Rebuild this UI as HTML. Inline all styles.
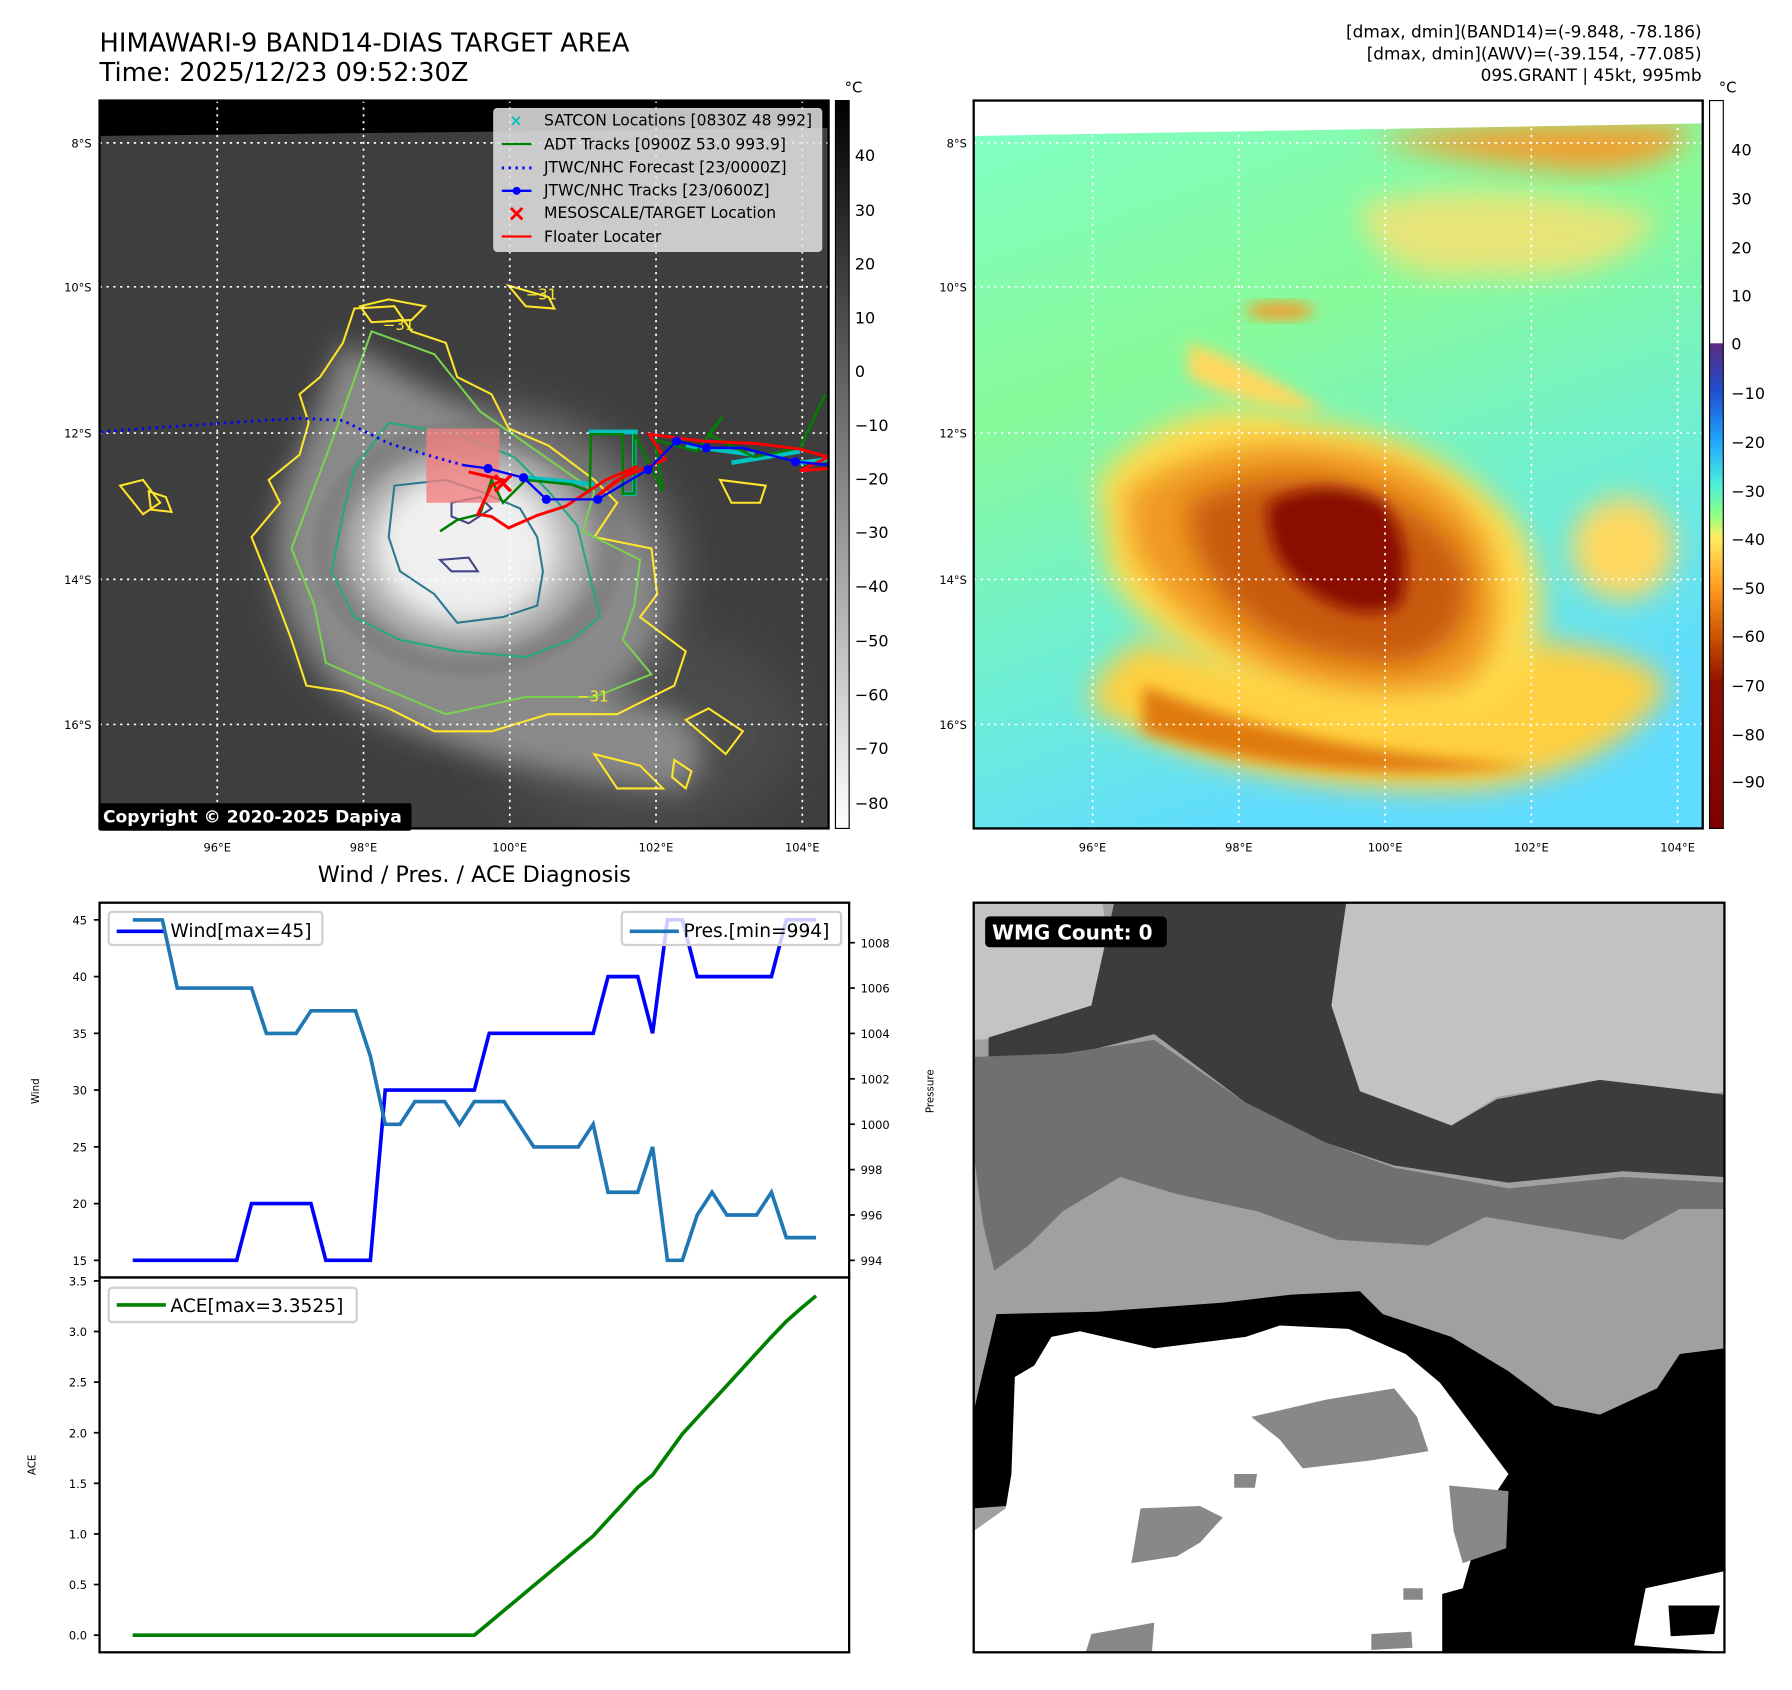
<!DOCTYPE html>
<html><head><meta charset="utf-8"><style>
html,body{margin:0;padding:0;background:#fff;}
svg{display:block;font-family:"DejaVu Sans","Liberation Sans",sans-serif;}
</style></head><body>
<svg id="fig" width="1792" height="1690" viewBox="0 0 1568 1479" xmlns="http://www.w3.org/2000/svg">
<defs>
<filter id="b6" x="-20%" y="-20%" width="140%" height="140%"><feGaussianBlur stdDeviation="6"/></filter>
<filter id="b12" x="-30%" y="-30%" width="160%" height="160%"><feGaussianBlur stdDeviation="12"/></filter>
<filter id="b20" x="-30%" y="-30%" width="160%" height="160%"><feGaussianBlur stdDeviation="20"/></filter>
<clipPath id="c1"><rect x="87" y="88" width="638" height="637"/></clipPath>
<clipPath id="c2"><rect x="852" y="88" width="638" height="637"/></clipPath>
<clipPath id="c3"><rect x="852" y="790" width="657" height="656"/></clipPath>
<linearGradient id="cb1" x1="0" y1="0" x2="0" y2="1"><stop offset="0" stop-color="#000"/><stop offset="1" stop-color="#fff"/></linearGradient>
<linearGradient id="cb2" x1="0" y1="0" x2="0" y2="1">
<stop offset="0" stop-color="#fff"/><stop offset="0.333" stop-color="#fff"/>
<stop offset="0.334" stop-color="#5a2a80"/><stop offset="0.40" stop-color="#2050d0"/>
<stop offset="0.47" stop-color="#20a8ff"/><stop offset="0.53" stop-color="#50f0d8"/>
<stop offset="0.57" stop-color="#90ff80"/><stop offset="0.60" stop-color="#ffee60"/>
<stop offset="0.67" stop-color="#ff9a20"/><stop offset="0.74" stop-color="#c85000"/>
<stop offset="0.80" stop-color="#901000"/><stop offset="1" stop-color="#800000"/></linearGradient>
<radialGradient id="cloud1" cx="0.5" cy="0.5" r="0.5"><stop offset="0" stop-color="#f4f4f4"/><stop offset="0.45" stop-color="#e0e0e0"/><stop offset="0.75" stop-color="#a0a0a0"/><stop offset="1" stop-color="#555" stop-opacity="0"/></radialGradient>
<linearGradient id="bg2" x1="0" y1="0" x2="0.35" y2="1"><stop offset="0" stop-color="#80ffc8"/><stop offset="0.4" stop-color="#88fa9a"/><stop offset="0.7" stop-color="#70f0d0"/><stop offset="1" stop-color="#60dcff"/></linearGradient>
</defs>

<!-- Titles -->
<text x="87" y="45" font-size="22.5">HIMAWARI-9 BAND14-DIAS TARGET AREA</text>
<text x="87" y="71" font-size="22.5">Time: 2025/12/23 09:52:30Z</text>
<g font-size="14.8" text-anchor="end">
<text x="1489" y="33">[dmax, dmin](BAND14)=(-9.848, -78.186)</text>
<text x="1489" y="52">[dmax, dmin](AWV)=(-39.154, -77.085)</text>
<text x="1489" y="71">09S.GRANT | 45kt, 995mb</text>
</g>

<!-- MAP 1 -->
<g clip-path="url(#c1)">
<rect x="87" y="88" width="638" height="637" fill="#3e3e3e"/>
<ellipse cx="560" cy="640" rx="140" ry="90" fill="#4c4c4c" filter="url(#b20)"/>
<ellipse cx="420" cy="500" rx="170" ry="140" fill="#7a7a7a" filter="url(#b20)"/>
<path d="M300 300 Q420 360 560 470 Q600 560 520 610 Q650 620 600 690 Q420 680 300 600 Q230 520 250 430 Z" fill="#8a8a8a" filter="url(#b12)"/>
<ellipse cx="410" cy="480" rx="140" ry="115" fill="url(#cloud1)"/>
<ellipse cx="405" cy="478" rx="70" ry="58" fill="#f0f0f0" filter="url(#b12)"/>
<polygon points="87,88 725,88 725,112 87,119" fill="#000"/>
<g fill="none" stroke-width="1.8">
<path d="M310,270 L345,268 L360,290 L390,300 L400,330 L430,345 L445,375 L480,390 L520,420 L540,440 L520,470 L570,480 L575,520 L560,540 L600,570 L590,600 L540,625 L480,625 L430,640 L380,640 L340,620 L300,605 L268,600 L255,560 L240,520 L220,470 L245,440 L235,420 L262,398 L270,370 L262,345 L280,330 L300,300 Z" stroke="#ffe62a"/>
<path d="M325,290 L380,310 L420,360 L470,395 L520,430 L510,465 L560,490 L555,530 L545,560 L570,590 L520,610 L460,610 L390,625 L330,600 L285,580 L275,530 L255,480 L270,440 L285,400 L300,360 Z" stroke="#7ad151"/>
<path d="M340,370 L400,380 L450,400 L480,430 L505,460 L515,500 L525,540 L500,560 L460,575 L400,570 L350,560 L310,540 L290,500 L300,450 L310,410 Z" stroke="#22a884"/>
<path d="M345,425 L390,420 L420,430 L455,445 L470,470 L475,500 L470,530 L440,540 L400,545 L380,520 L350,500 L340,470 Z" stroke="#2a788e"/>
<path d="M395,440 L420,435 L430,445 L410,458 L395,452 Z M385,490 L410,488 L418,500 L395,500 Z" stroke="#414487"/>
<path d="M105,425 L125,420 L140,440 L125,450 Z M130,430 L145,435 L150,448 L132,446 Z" stroke="#ffe62a"/>
<path d="M315,268 L340,262 L372,268 L360,280 L325,282 Z" stroke="#ffe62a"/>
<path d="M445,250 L480,260 L485,270 L460,268 Z M600,630 L620,620 L650,640 L635,660 Z M520,660 L560,670 L580,690 L540,690 Z M630,420 L670,425 L665,440 L640,440 Z M590,665 L605,675 L600,690 L588,680 Z" stroke="#ffe62a"/>
</g>
<g fill="#ffe62a" font-size="13">
<text x="335" y="289">−31</text><text x="505" y="614">−31</text><text x="460" y="262">−31</text>
</g>
<g stroke="#fff" stroke-width="1.5" stroke-dasharray="2,4">
<line x1="190" y1="88" x2="190" y2="725"/><line x1="318" y1="88" x2="318" y2="725"/><line x1="446" y1="88" x2="446" y2="725"/><line x1="574" y1="88" x2="574" y2="725"/><line x1="702" y1="88" x2="702" y2="725"/>
<line x1="87" y1="125" x2="725" y2="125"/><line x1="87" y1="251" x2="725" y2="251"/><line x1="87" y1="379" x2="725" y2="379"/><line x1="87" y1="507" x2="725" y2="507"/><line x1="87" y1="634" x2="725" y2="634"/>
</g>
<rect x="373" y="375" width="64" height="65" fill="#f08080" opacity="0.8"/>
<polyline points="88,378 140,374 200,370 260,366 300,368 340,388 380,400 405,407" fill="none" stroke="#0000ff" stroke-width="2.5" stroke-dasharray="2,4"/>
<g fill="none" stroke="#00c0c0" stroke-width="4">
<polyline points="515,378 558,378"/><polyline points="545,378 555,378 555,432 545,432"/><polyline points="460,418 520,424"/><polyline points="640,405 700,395"/><polyline points="700,405 725,402"/><polyline points="600,390 660,398"/>
</g>
<g fill="none" stroke="#008000" stroke-width="2.2">
<polyline points="385,465 400,455 420,450 430,420 440,440 460,420 500,424 516,430 517,380 545,380 545,432 555,432 555,380 580,430 573,385 610,395 632,365 620,380 660,400 700,392 715,360 722,345"/>
</g>
<g fill="none" stroke="#ff0000" stroke-width="2.6">
<polyline points="410,413 440,420 430,425 418,450 430,452 445,462 470,451 495,443 530,420 558,408 520,436 540,420 582,402 568,380 614,386 660,388 700,393 725,400 700,412 725,410"/>
</g>
<polyline points="405,407 427,410 458,418 478,437 523,437 567,411 592,386 618,392 650,392 696,404 725,407" fill="none" stroke="#0000ff" stroke-width="2"/>
<g fill="#0000ff">
<circle cx="427" cy="410" r="4"/><circle cx="458" cy="418" r="4"/><circle cx="478" cy="437" r="4"/><circle cx="523" cy="437" r="4"/><circle cx="567" cy="411" r="4"/><circle cx="592" cy="386" r="4"/><circle cx="618" cy="392" r="4"/><circle cx="696" cy="404" r="4"/>
</g>
<path d="M433,416 L447,430 M447,416 L433,430" stroke="#ff0000" stroke-width="3"/>
</g>
<rect x="87" y="88" width="638" height="637" fill="none" stroke="#000" stroke-width="2"/>
<rect x="86" y="703" width="274" height="24" rx="2" fill="#000"/>
<text x="90" y="720" fill="#fff" font-size="15" font-weight="bold">Copyright © 2020-2025 Dapiya</text>
<g>
<rect x="432" y="95" width="287" height="125" rx="3" fill="#e4e4e4" fill-opacity="0.85" stroke="#ccc"/>
<g font-size="13.6">
<text x="476" y="110">SATCON Locations [0830Z 48 992]</text>
<text x="476" y="131">ADT Tracks [0900Z 53.0 993.9]</text>
<text x="476" y="151">JTWC/NHC Forecast [23/0000Z]</text>
<text x="476" y="171">JTWC/NHC Tracks [23/0600Z]</text>
<text x="476" y="191">MESOSCALE/TARGET Location</text>
<text x="476" y="212">Floater Locater</text>
</g>
<text x="446" y="110" fill="#00c0c0" font-size="13" font-weight="bold">×</text>
<line x1="439" y1="126" x2="465" y2="126" stroke="#008000" stroke-width="2"/>
<line x1="439" y1="147" x2="465" y2="147" stroke="#0000ff" stroke-width="2.5" stroke-dasharray="2,4"/>
<line x1="439" y1="167" x2="465" y2="167" stroke="#0000ff" stroke-width="2"/><circle cx="452" cy="167" r="3.5" fill="#0000ff"/>
<path d="M447,182 L457,192 M457,182 L447,192" stroke="#ff0000" stroke-width="2.5"/>
<line x1="439" y1="207" x2="465" y2="207" stroke="#ff0000" stroke-width="2"/>
</g>
<g font-size="10" text-anchor="end">
<text x="80" y="129">8°S</text><text x="80" y="255">10°S</text><text x="80" y="383">12°S</text><text x="80" y="511">14°S</text><text x="80" y="638">16°S</text>
</g>
<g font-size="10" text-anchor="middle">
<text x="190" y="745">96°E</text><text x="318" y="745">98°E</text><text x="446" y="745">100°E</text><text x="574" y="745">102°E</text><text x="702" y="745">104°E</text>
</g>
<rect x="731" y="88" width="12" height="637" fill="url(#cb1)" stroke="#000" stroke-width="1"/>
<text x="739" y="81" font-size="13">°C</text>
<g font-size="14">
<text x="748" y="141">40</text><text x="748" y="189">30</text><text x="748" y="236">20</text><text x="748" y="283">10</text><text x="748" y="330">0</text><text x="748" y="377">−10</text><text x="748" y="424">−20</text><text x="748" y="471">−30</text><text x="748" y="518">−40</text><text x="748" y="566">−50</text><text x="748" y="613">−60</text><text x="748" y="660">−70</text><text x="748" y="708">−80</text>
</g>

<!-- MAP 2 -->
<g clip-path="url(#c2)">
<rect x="852" y="88" width="638" height="637" fill="url(#bg2)"/>
<path d="M1190,180 Q1300,150 1450,190 Q1420,250 1300,240 Q1200,250 1190,180Z" fill="#ffe070" opacity="0.8" filter="url(#b12)"/>
<path d="M1200,120 Q1350,100 1480,110 Q1470,150 1380,150 Q1260,140 1200,120Z" fill="#f0a030" filter="url(#b12)"/>
<ellipse cx="1120" cy="272" rx="30" ry="8" fill="#f0a030" filter="url(#b6)"/>
<path d="M1040,300 Q1100,320 1160,360 Q1100,360 1040,330Z" fill="#ffd860" filter="url(#b6)"/>
<path d="M955,620 Q1100,700 1300,690 Q1420,670 1460,600 Q1430,560 1300,560 Q1150,600 1000,560 Q950,590 955,620Z" fill="#ffd040" filter="url(#b12)"/>
<path d="M1000,640 Q1150,690 1340,670 Q1150,660 1000,600Z" fill="#e07a10" filter="url(#b6)"/>
<ellipse cx="1420" cy="480" rx="45" ry="45" fill="#ffd860" filter="url(#b12)"/>
<path d="M960,420 Q1040,330 1150,370 Q1260,380 1330,460 Q1380,560 1300,620 Q1200,640 1100,600 Q1000,560 970,500Z" fill="#ffdd50" filter="url(#b12)"/>
<path d="M985,430 Q1060,380 1150,390 Q1260,400 1300,470 Q1330,560 1280,600 Q1180,620 1100,580 Q1020,540 990,480Z" fill="#f09a20" filter="url(#b12)"/>
<path d="M1040,440 Q1100,410 1170,420 Q1250,440 1280,490 Q1300,560 1230,580 Q1140,580 1090,540 Q1040,500 1040,440Z" fill="#c85a08" filter="url(#b12)"/>
<path d="M1110,440 Q1160,415 1210,440 Q1240,480 1225,530 Q1190,545 1150,520 Q1105,490 1110,440Z" fill="#8a0a00" filter="url(#b6)"/>
<polygon points="852,88 1490,88 1490,108 852,119" fill="#fff"/>
<g stroke="#fff" stroke-width="1.5" stroke-dasharray="2,4">
<line x1="956" y1="88" x2="956" y2="725"/><line x1="1084" y1="88" x2="1084" y2="725"/><line x1="1212" y1="88" x2="1212" y2="725"/><line x1="1340" y1="88" x2="1340" y2="725"/><line x1="1468" y1="88" x2="1468" y2="725"/>
<line x1="852" y1="125" x2="1490" y2="125"/><line x1="852" y1="251" x2="1490" y2="251"/><line x1="852" y1="379" x2="1490" y2="379"/><line x1="852" y1="507" x2="1490" y2="507"/><line x1="852" y1="634" x2="1490" y2="634"/>
</g>
</g>
<rect x="852" y="88" width="638" height="637" fill="none" stroke="#000" stroke-width="2"/>
<g font-size="10" text-anchor="end">
<text x="846" y="129">8°S</text><text x="846" y="255">10°S</text><text x="846" y="383">12°S</text><text x="846" y="511">14°S</text><text x="846" y="638">16°S</text>
</g>
<g font-size="10" text-anchor="middle">
<text x="956" y="745">96°E</text><text x="1084" y="745">98°E</text><text x="1212" y="745">100°E</text><text x="1340" y="745">102°E</text><text x="1468" y="745">104°E</text>
</g>
<rect x="1496" y="88" width="12" height="637" fill="url(#cb2)" stroke="#000" stroke-width="1"/>
<text x="1504" y="81" font-size="13">°C</text>
<g font-size="14">
<text x="1515" y="136">40</text><text x="1515" y="179">30</text><text x="1515" y="222">20</text><text x="1515" y="264">10</text><text x="1515" y="306">0</text><text x="1515" y="349">−10</text><text x="1515" y="392">−20</text><text x="1515" y="435">−30</text><text x="1515" y="477">−40</text><text x="1515" y="520">−50</text><text x="1515" y="562">−60</text><text x="1515" y="605">−70</text><text x="1515" y="648">−80</text><text x="1515" y="689">−90</text>
</g>

<!-- WMG panel -->
<g clip-path="url(#c3)">
<rect x="852" y="790" width="657" height="656" fill="#a0a0a0"/>
<polygon points="852,790 965,790 972,860 940,905 852,910" fill="#c4c4c4"/>
<polygon points="1178,790 1509,790 1509,955 1460,965 1400,945 1310,960 1270,985 1190,955 1165,880" fill="#c2c2c2"/>
<polygon points="865,908 955,880 975,790 1178,790 1165,880 1190,955 1270,985 1310,962 1400,945 1509,958 1509,1030 1420,1025 1320,1035 1220,1020 1160,1000 1090,965 1010,905 930,925 865,935" fill="#3c3c3c"/>
<polygon points="852,925 930,922 1010,910 1090,965 1160,1000 1220,1022 1320,1040 1420,1030 1509,1035 1509,1058 1470,1058 1420,1085 1360,1075 1300,1065 1250,1090 1170,1085 1100,1060 1030,1045 980,1030 930,1060 900,1090 870,1112 860,1070 852,1010" fill="#707070"/>
<polygon points="872,1150 960,1148 1070,1140 1130,1133 1190,1130 1210,1150 1270,1170 1320,1200 1360,1230 1400,1238 1450,1215 1470,1185 1509,1180 1509,1446 1260,1446 1200,1420 1170,1330 1120,1300 852,1320 852,1235" fill="#000"/>
<polygon points="888,1205 905,1195 920,1170 945,1165 1010,1180 1090,1170 1120,1160 1180,1163 1230,1185 1260,1210 1290,1250 1320,1290 1300,1320 1280,1390 1262,1395 1262,1446 865,1446 852,1446 852,1340 880,1320 885,1290" fill="#fff"/>
<polygon points="1440,1390 1509,1375 1509,1446 1430,1440" fill="#fff"/>
<polygon points="1095,1240 1160,1225 1220,1215 1240,1240 1250,1270 1200,1278 1140,1285 1120,1260" fill="#888"/>
<polygon points="998,1320 1050,1318 1070,1328 1050,1350 1030,1362 990,1368" fill="#888"/>
<polygon points="1268,1300 1320,1305 1318,1355 1280,1368 1272,1340" fill="#888"/>
<polygon points="1080,1290 1100,1290 1098,1302 1080,1302" fill="#888"/>
<polygon points="955,1430 1010,1420 1008,1446 950,1446" fill="#888"/>
<polygon points="1200,1430 1235,1428 1236,1442 1200,1444" fill="#888"/>
<polygon points="1228,1390 1245,1390 1245,1400 1228,1400" fill="#888"/>
<polygon points="1460,1405 1505,1405 1500,1430 1462,1432" fill="#000"/>
</g>
<rect x="852" y="790" width="657" height="656" fill="none" stroke="#000" stroke-width="2"/>
<rect x="862" y="802" width="159" height="27" rx="4" fill="#000"/>
<text x="868" y="822" fill="#fff" font-size="17.5" font-weight="bold">WMG Count: 0</text>

<text x="415" y="772" font-size="19.5" text-anchor="middle">Wind / Pres. / ACE Diagnosis</text>
<g id="chart"></g>
</svg>
<script>
const windVals=[15,15,15,15,15,15,15,15,20,20,20,20,20,15,15,15,15,30,30,30,30,30,30,30,35,35,35,35,35,35,35,35,40,40,40,35,45,45,40,40,40,40,40,40,45,45,45];
const presVals=[1009,1009,1009,1006,1006,1006,1006,1006,1006,1004,1004,1004,1005,1005,1005,1005,1003,1000,1000,1001,1001,1001,1000,1001,1001,1001,1000,999,999,999,999,1000,997,997,997,999,994,994,996,997,996,996,996,997,995,995,995];
const aceVals=[0,0,0,0,0,0,0,0,0,0,0,0,0,0,0,0,0,0,0,0,0,0,0,0,0.1225,0.245,0.3675,0.49,0.6125,0.735,0.8575,0.98,1.14,1.3,1.46,1.5825,1.785,1.9875,2.1475,2.3075,2.4675,2.6275,2.7875,2.9475,3.1,3.23,3.3525];
const windTicks=[15,20,25,30,35,40,45];
const presTicks=[994,996,998,1000,1002,1004,1006,1008];
const aceTicks=[0.0,0.5,1.0,1.5,2.0,2.5,3.0,3.5];
const NS='http://www.w3.org/2000/svg';
const g=document.getElementById('chart');
function mk(t,a,p){const e=document.createElementNS(NS,t);for(const k in a)e.setAttribute(k,a[k]);(p||g).appendChild(e);return e;}
const X0=87,X1=743,TY=790,MY=1118,BY=1446;
const xs=i=>116+i*(714-116)/(windVals.length-1);
const yW=v=>1103-(v-15)*(1103-805)/30;
const yP=v=>1103-(v-994)*(1103-825)/14;
const yA=v=>1431-v*(1431-1121)/3.5;
function pts(arr,fy){return arr.map((v,i)=>xs(i).toFixed(1)+','+fy(v).toFixed(1)).join(' ');}
let e=mk('rect',{x:X0,y:TY,width:X1-X0,height:MY-TY,fill:'#fff',stroke:'#000','stroke-width':2});


e=mk('rect',{x:X0,y:MY,width:X1-X0,height:BY-MY,fill:'#fff',stroke:'#000','stroke-width':2});


windTicks.forEach(t=>{const y=yW(t);mk('line',{x1:X0-5,x2:X0,y1:y,y2:y,stroke:'#000','stroke-width':1.5});const tx=mk('text',{x:X0-11,y:y+4,'font-size':10,'text-anchor':'end'});tx.textContent=t;

});
presTicks.forEach(t=>{const y=yP(t);mk('line',{x1:X1,x2:X1+5,y1:y,y2:y,stroke:'#000','stroke-width':1.5});const tx=mk('text',{x:X1+10,y:y+4,'font-size':10});tx.textContent=t;

});
aceTicks.forEach(t=>{const y=yA(t);mk('line',{x1:X0-5,x2:X0,y1:y,y2:y,stroke:'#000','stroke-width':1.5});const tx=mk('text',{x:X0-11,y:y+4,'font-size':10,'text-anchor':'end'});tx.textContent=t.toFixed(1);

});
let lab=mk('text',{x:0,y:0,'font-size':9,'text-anchor':'middle',transform:'translate(34,955) rotate(-90)'});lab.textContent='Wind';


lab=mk('text',{x:0,y:0,'font-size':9,'text-anchor':'middle',transform:'translate(817,955) rotate(-90)'});lab.textContent='Pressure';


lab=mk('text',{x:0,y:0,'font-size':9,'text-anchor':'middle',transform:'translate(31,1282) rotate(-90)'});lab.textContent='ACE';


let ln=mk('polyline',{points:pts(windVals,yW),fill:'none',stroke:'#0000ff','stroke-width':3.2});


let lg=mk('rect',{x:95,y:798,width:187,height:29,rx:3,fill:'#fff','fill-opacity':0.8,stroke:'#d0d0d0','stroke-width':2});


mk('line',{x1:102,x2:145,y1:815,y2:815,stroke:'#0000ff','stroke-width':3.2});
let lt=mk('text',{x:149,y:820,'font-size':16.3});lt.textContent='Wind[max=45]';


ln=mk('polyline',{points:pts(presVals,yP),fill:'none',stroke:'#1f77b4','stroke-width':3.2});


lg=mk('rect',{x:544,y:798,width:192,height:29,rx:3,fill:'#fff','fill-opacity':0.8,stroke:'#d0d0d0','stroke-width':2});


mk('line',{x1:551,x2:594,y1:815,y2:815,stroke:'#1f77b4','stroke-width':3.2});
lt=mk('text',{x:598,y:820,'font-size':16.3});lt.textContent='Pres.[min=994]';


ln=mk('polyline',{points:pts(aceVals,yA),fill:'none',stroke:'#008000','stroke-width':3.2});


lg=mk('rect',{x:95,y:1127,width:217,height:30,rx:3,fill:'#fff','fill-opacity':0.8,stroke:'#d0d0d0','stroke-width':2});


mk('line',{x1:102,x2:145,y1:1142,y2:1142,stroke:'#008000','stroke-width':3.2});
lt=mk('text',{x:149,y:1148,'font-size':16.3});lt.textContent='ACE[max=3.3525]';


</script>
</body></html>
